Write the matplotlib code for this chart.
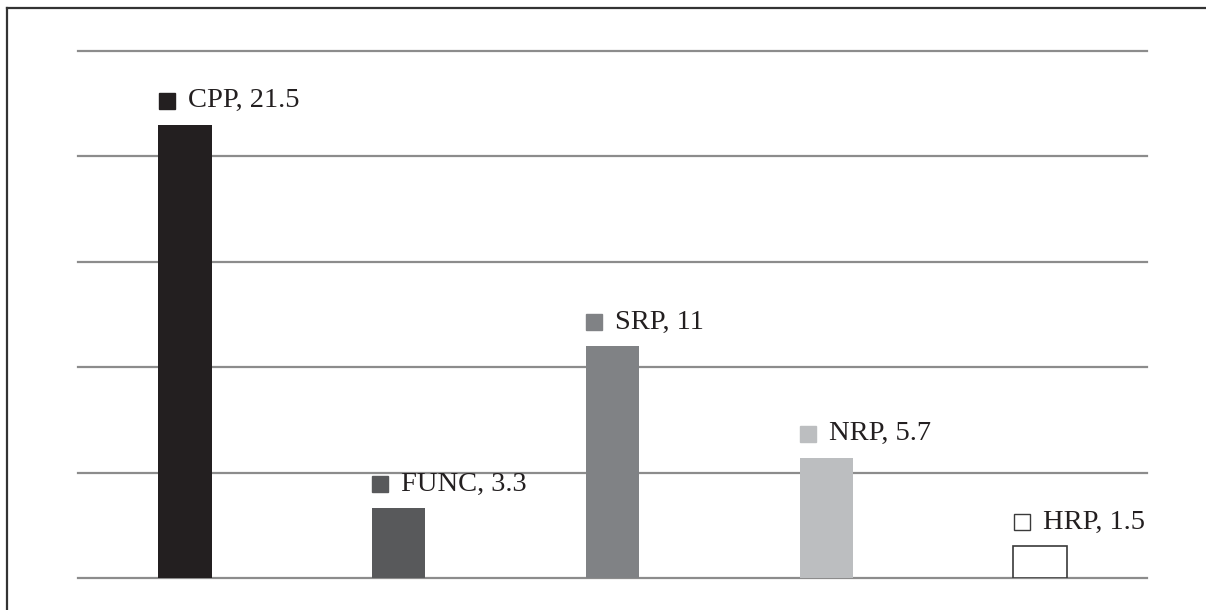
import matplotlib
matplotlib.use("Agg")
import matplotlib.pyplot as plt
from matplotlib.lines import Line2D
from matplotlib.transforms import offset_copy

categories = ["CPP", "FUNC", "SRP", "NRP", "HRP"]
values = [21.5, 3.3, 11, 5.7, 1.5]
colors = ["#231f20", "#58595b", "#808285", "#bcbec0", "#ffffff"]
grid_levels = [0, 5, 10, 15, 20, 25]

W, H, DPI = 12.06, 6.10, 100
fig = plt.figure(figsize=(W, H), dpi=DPI)
ax = fig.add_axes([78 / 1206, 32 / 610, 1069 / 1206, 527 / 610])

bar_w = 0.25
xs = list(range(len(categories)))
ax.bar(xs, values, width=bar_w, color=colors,
       edgecolor=["none"] * 4 + ["#3a3a3a"], linewidth=1.2, zorder=3)

for g in grid_levels:
    ax.axhline(g, color="#8c8c8c", lw=1.6, zorder=1, clip_on=False)

ax.set_xlim(-0.5, len(categories) - 0.5)
ax.set_ylim(0, 25)
ax.axis("off")

# data labels: small colour key square followed by "name, value"
for x, v, c, name in zip(xs, values, colors, categories):
    left = x - bar_w / 2
    mk_tr = offset_copy(ax.transData, fig=fig, x=8.5 * 72 / DPI, y=24 * 72 / DPI, units="points")
    ax.plot([left], [v], marker="s", markersize=11.5, color=c,
            markeredgecolor=c if c != "#ffffff" else "#3a3a3a",
            markeredgewidth=1.0, transform=mk_tr, clip_on=False, zorder=4)
    tx_tr = offset_copy(ax.transData, fig=fig, x=29.5 * 72 / DPI, y=24 * 72 / DPI, units="points")
    ax.text(left, v, f"{name}, {v:g}", transform=tx_tr, ha="left", va="center",
            fontsize=20.5, family="Liberation Serif", color="#231f20", zorder=4)

# outer frame (left and top edges)
fx, fy = 7 / 1206, 1 - 8 / 610
fig.add_artist(Line2D([fx, fx], [0, fy], transform=fig.transFigure, color="#333333", lw=1.6))
fig.add_artist(Line2D([fx, 1], [fy, fy], transform=fig.transFigure, color="#333333", lw=1.6))

fig.savefig("out.png", dpi=DPI)
